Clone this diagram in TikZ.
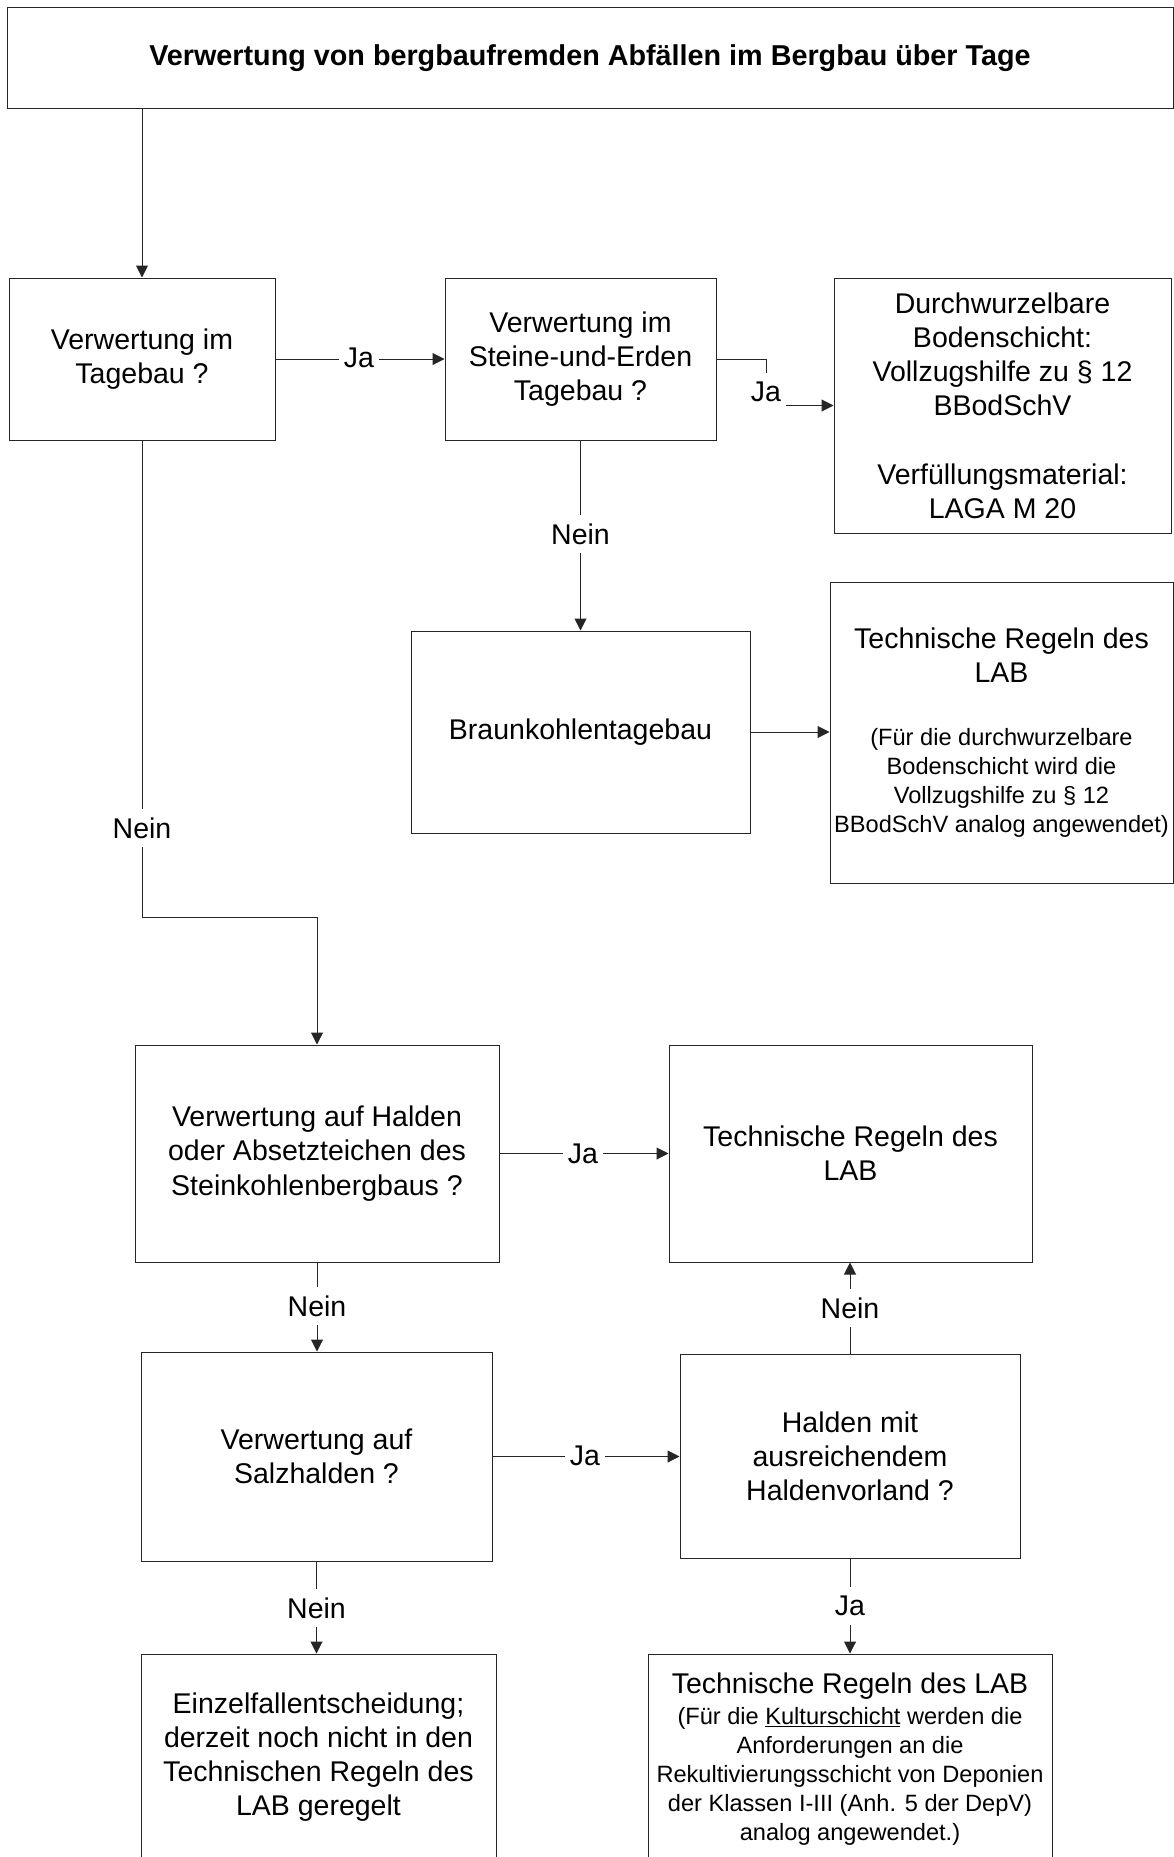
\documentclass[tikz,border=0pt]{standalone}
\usepackage{fontspec}
\setmainfont{Liberation Sans}
\usepackage{tikz}
\usetikzlibrary{arrows.meta}
\setlength{\parindent}{0pt}

\newcommand{\boxtxt}{\fontsize{28.5}{34.2}\selectfont}
\newcommand{\notetxt}{\fontsize{23.6}{28.9}\selectfont}
\newcommand{\titletxt}{\fontsize{28.75}{34}\selectfont\bfseries}

\begin{document}
\begin{tikzpicture}[x=1pt, y=-1pt,
        box/.style={draw=black!85, line width=1pt, rectangle, inner sep=0pt, align=center, font=\boxtxt},
        lbl/.style={fill=white, inner xsep=5pt, inner ysep=9pt, font=\boxtxt},
        arr/.style={draw=black!85, line width=1pt, -{Triangle[length=12pt, width=12pt]}}]
        \useasboundingbox (0,0) rectangle (1174,1857);
        \clip (0,0) rectangle (1174,1857);

        % Title
        \node[box, font=\titletxt, minimum width=1166, minimum height=101] (title) at (590,58.5) {Verwertung von bergbaufremden Abfällen im Bergbau über Tage};

        % Tagebau
        \node[box, minimum width=266, minimum height=162] (q1) at (142,359) {Verwertung im\\Tagebau ?};
        \node[box, minimum width=271, minimum height=162] (q2) at (580.5,359) {Verwertung im\\Steine-und-Erden\\Tagebau ?};
        \node[box, minimum width=337, minimum height=255] (r1) at (1002.5,405.5) {Durchwurzelbare\\Bodenschicht:\\Vollzugshilfe zu § 12\\BBodSchV\\[34.2pt]Verfüllungsmaterial:\\LAGA M 20};
        \node[box, minimum width=339, minimum height=202] (r2) at (580.5,732) {Braunkohlentagebau};
        \node[box, align=flush center, text width=340, inner xsep=1.5pt, minimum width=343, minimum height=301] (r3) at (1001.5,732.5) {Technische Regeln des\\LAB\par\vspace{34pt}\notetxt (Für die durchwurzelbare\\Bodenschicht wird die\\Vollzugshilfe zu § 12\\\mbox{BBodSchV analog angewendet)}\par};

        % Halden
        \node[box, minimum width=364, minimum height=217] (q3) at (317,1153.5) {Verwertung auf Halden\\oder Absetzteichen des\\Steinkohlenbergbaus ?};
        \node[box, minimum width=363, minimum height=217] (r4) at (850.5,1153.5) {Technische Regeln des\\LAB};
        \node[box, minimum width=351, minimum height=209] (q4) at (316.5,1456.5) {Verwertung auf\\Salzhalden ?};
        \node[box, minimum width=340, minimum height=204] (q5) at (850,1456) {Halden mit\\ausreichendem\\Haldenvorland ?};
        \node[box, minimum width=355, minimum height=206] (r5) at (318.5,1757) {Einzelfallentscheidung;\\derzeit noch nicht in den\\Technischen Regeln des\\LAB geregelt};
        \node[box, align=flush center, text width=396, inner xsep=4pt, minimum width=404, minimum height=210] (r6) at (850,1759) {Technische Regeln des LAB\par\vspace{2pt}\notetxt (Für die \underline{Kulturschicht} werden die\\Anforderungen an die\\Rekultivierungsschicht von Deponien\\der Klassen I-III (Anh. 5 der DepV)\\analog angewendet.)\par};

        % Connections
        \coordinate (bend) at (142,917);
        \draw[arr] (title.south -| q1.north) -- (q1.north);
        \draw[arr] (q1.east) -- (q2.west);
        \draw[arr] (q2.east) -- ++(50,0) |- (r1.west);
        \draw[arr] (q2.south) -- (r2.north);
        \draw[arr] (r2.east) -- (r2.east -| r3.west);
        \draw[arr] (q1.south) -- (bend) -| (q3.north);
        \draw[arr] (q3.east) -- (q3.east -| r4.west);
        \draw[arr] (q3.south) -- (q3.south |- q4.north);
        \draw[arr] (q4.east) -- (q4.east -| q5.west);
        \draw[arr] (q5.north) -- (q5.north |- r4.south);
        \draw[arr] (q5.south) -- (q5.south |- r6.north);
        \draw[arr] (q4.south) -- (q4.south |- r5.north);

        % Labels
        \node[lbl] (ja1) at (359,358) {Ja};
        \node[lbl] (ja2) at (766,392) {Ja};
        \node[lbl] (nein1) at (580.5,534) {Nein};
        \node[lbl] (nein2) at (142,828) {Nein};
        \node[lbl] (ja3) at (583,1153.5) {Ja};
        \node[lbl] (nein3) at (317,1306) {Nein};
        \node[lbl] (ja4) at (585,1456) {Ja};
        \node[lbl] (nein4) at (850,1308) {Nein};
        \node[lbl] (ja5) at (850,1606) {Ja};
        \node[lbl] (nein5) at (316.5,1608) {Nein};
\end{tikzpicture}
\end{document}
